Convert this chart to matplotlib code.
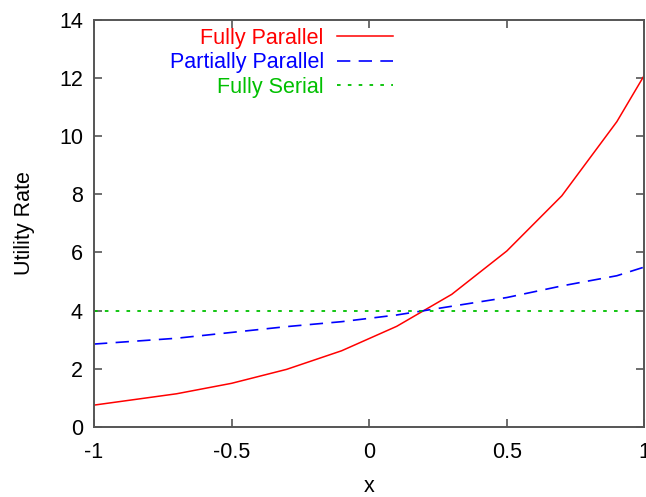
import matplotlib
matplotlib.use('Agg')
import matplotlib.pyplot as plt

plt.rcParams['font.family'] = ['Liberation Sans', 'DejaVu Sans']

# ── Data ───────────────────────────────────────────────────────
x_vals = [-1.0, -0.7, -0.5, -0.3, -0.1, 0.1, 0.3, 0.5, 0.7, 0.9, 1.0]
fully_parallel = [0.75, 1.14, 1.50, 1.98, 2.62, 3.46, 4.56, 6.05, 7.95, 10.5, 12.1]
partially_parallel = [2.85, 3.05, 3.25, 3.45, 3.62, 3.85, 4.15, 4.45, 4.85, 5.2, 5.5]
fully_serial = [4.0] * len(x_vals)

x_ticks = [-1, -0.5, 0, 0.5, 1]
x_ticklabels = ['-1', '-0.5', '0', '0.5', '1']
y_ticks = [0, 2, 4, 6, 8, 10, 12, 14]

FS = 15.5

fig = plt.figure(figsize=(6.46, 4.97), dpi=100)
ax = fig.add_axes([0.1455, 0.141, 0.852, 0.819])

ax.plot(x_vals, fully_parallel, color='#ff0000', lw=1.1, label='Fully Parallel')
ax.plot(x_vals, partially_parallel, color='#0000ff', lw=1.2,
        dashes=(8, 5), label='Partially Parallel')
ax.plot(x_vals, fully_serial, color='#00c000', lw=1.3,
        dashes=(2, 4), label='Fully Serial')

ax.set_xlim(-1, 1)
ax.set_ylim(0, 14)
ax.set_xticks(x_ticks)
ax.set_xticklabels(x_ticklabels)
ax.set_yticks(y_ticks)
ax.tick_params(direction='in', length=6, width=1.2, color='#555555',
               top=True, right=True, labelsize=FS, pad=8)
ax.tick_params(axis='x', pad=11)
for sp in ax.spines.values():
    sp.set_color('#555555')
    sp.set_linewidth(1.4)

ax.set_xlabel('x', fontsize=FS, labelpad=9)
ax.set_ylabel('Utility Rate', fontsize=FS, labelpad=17)

leg = ax.legend(loc='upper left', bbox_to_anchor=(0.11, 1.018), frameon=False,
                markerfirst=False, fontsize=FS, handlelength=2.6,
                labelspacing=0.17, handletextpad=0.6, borderaxespad=0.3)
for text, line in zip(leg.get_texts(), leg.get_lines()):
    text.set_color(line.get_color())

fig.savefig('out.png', dpi=100)
